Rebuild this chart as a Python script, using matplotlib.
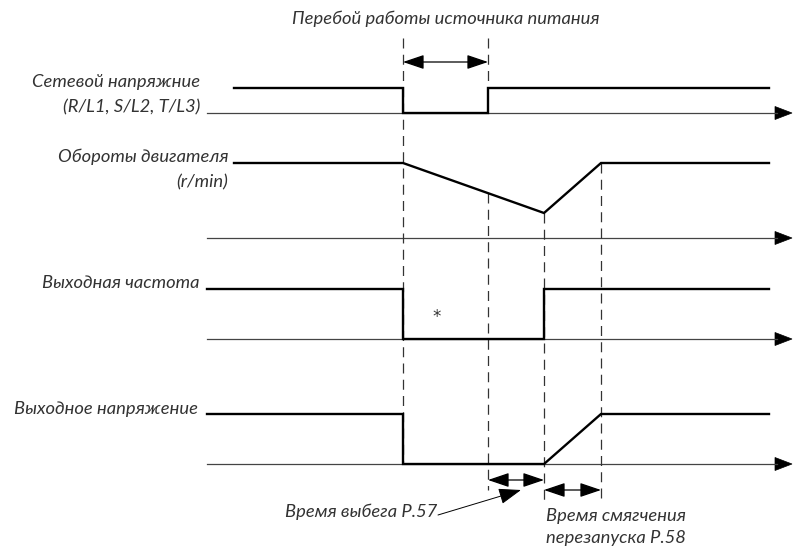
import matplotlib.pyplot as plt

# time marks (drawing units along the time axis)
t_start = 207      # where the time axes begin
t_lead = 234       # first two signals start a bit later
t_loss = 403       # power lost
t_back = 488       # power restored
t_restart = 544    # inverter restarts (end of coast time P.57)
t_ready = 601      # end of restart soft time P.58
t_end = 769        # end of signal traces
t_axis_end = 792   # arrow tip of time axes

# channels: baseline, high level
mains_base, mains_high = 113, 88
speed_base, speed_high, speed_min = 238, 163, 213
freq_base, freq_high = 339, 289
volt_base, volt_high = 464, 414

# signal traces (time, level)
mains_t = [t_lead, t_loss, t_loss, t_back, t_back, t_end]
mains_y = [mains_high, mains_high, mains_base, mains_base, mains_high, mains_high]

speed_t = [t_lead, t_loss, t_restart, t_ready, t_end]
speed_y = [speed_high, speed_high, speed_min, speed_high, speed_high]

freq_t = [t_start, t_loss, t_loss, t_restart, t_restart, t_end]
freq_y = [freq_high, freq_high, freq_base, freq_base, freq_high, freq_high]

volt_t = [t_start, t_loss, t_loss, t_restart, t_ready, t_end]
volt_y = [volt_high, volt_high, volt_base, volt_base, volt_high, volt_high]

labels = [
    ("Сетевой напряжние", 200, 82),
    ("(R/L1, S/L2, T/L3)", 200, 107),
    ("Обороты двигателя", 228, 157),
    ("(r/min)", 228, 182),
    ("Выходная частота", 200, 283),
    ("Выходное напряжение", 198, 409),
]

txt_color = "#333333"
fs = 13.2
plt.rcParams['font.family'] = ['Lato', 'DejaVu Sans']

fig = plt.figure(figsize=(7.94, 5.47), dpi=100)
ax = fig.add_axes([0, 0, 1, 1])
ax.set_xlim(0, 794)
ax.set_ylim(547, 0)
ax.axis('off')

# time axes with arrow heads
for base in [mains_base, speed_base, freq_base, volt_base]:
    ax.plot([t_start, t_axis_end - 15], [base, base], color="#444444", lw=0.9)
    ax.arrow(t_axis_end - 17, base, 17, 0, head_width=13, head_length=17,
             length_includes_head=True, fc="black", ec="black", lw=0.5)

# dashed guides
dash = dict(color="#333333", lw=0.9, linestyle=(0, (8, 5)))
ax.plot([t_loss, t_loss], [38, volt_base], **dash)
ax.plot([t_back, t_back], [38, mains_high], **dash)
ax.plot([t_back, t_back], [193, 490], **dash)
ax.plot([t_restart, t_restart], [speed_min, 500], **dash)
ax.plot([t_ready, t_ready], [speed_high, 500], **dash)

# signals
for tt, yy in [(mains_t, mains_y), (speed_t, speed_y), (freq_t, freq_y), (volt_t, volt_y)]:
    ax.plot(tt, yy, color="black", lw=1.7, solid_joinstyle='miter')

# double arrows
dbl = dict(arrowstyle='<|-|>,head_length=0.65,head_width=0.22', color='black',
           lw=0.9, shrinkA=0, shrinkB=0, mutation_scale=20)
ax.annotate('', xy=(t_back, 62), xytext=(t_loss, 62), arrowprops=dbl)
ax.annotate('', xy=(t_restart, 480), xytext=(t_back, 480), arrowprops=dbl)
ax.annotate('', xy=(t_ready, 490), xytext=(t_restart, 490), arrowprops=dbl)

# texts
ax.text(446, 19, "Перебой работы источника питания", ha='center', va='center',
        fontsize=fs, style='italic', color=txt_color)
for s, x, y in labels:
    ax.text(x, y, s, ha='right', va='center', fontsize=fs, style='italic', color=txt_color)
ax.text(437, 322, "*", ha='center', va='baseline', fontsize=12,
        family='DejaVu Sans', color=txt_color)

ax.text(437, 512, "Время выбега P.57", ha='right', va='center', fontsize=fs,
        style='italic', color=txt_color)
ax.annotate('', xy=(521, 490), xytext=(438, 515),
            arrowprops=dict(arrowstyle='-|>,head_length=0.7,head_width=0.25', color='black',
                            lw=0.7, shrinkA=0, shrinkB=0, mutation_scale=20))
ax.text(546, 516, "Время смягчения", ha='left', va='center', fontsize=fs,
        style='italic', color=txt_color)
ax.text(546, 538, "перезапуска P.58", ha='left', va='center', fontsize=fs,
        style='italic', color=txt_color)

fig.savefig("out.png", dpi=100)
